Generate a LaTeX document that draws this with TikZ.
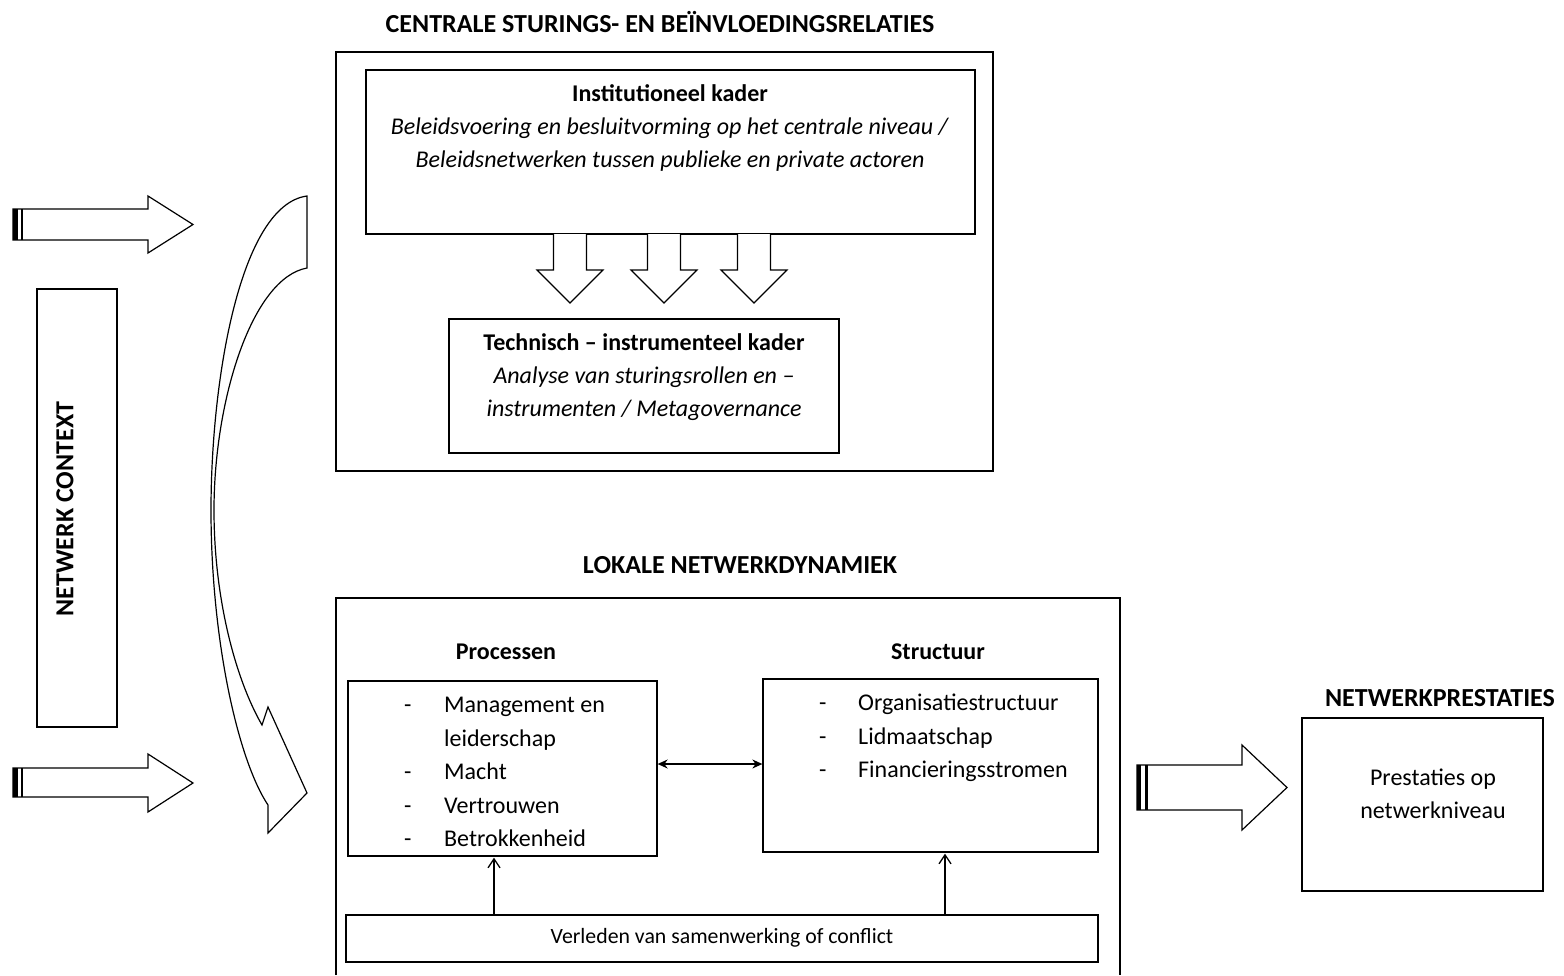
\documentclass[tikz,border=0pt]{standalone}
\usepackage{fontspec}
\setmainfont{Carlito}
\usetikzlibrary{arrows.meta}
\tikzset{
  box/.style={draw, line width=1.3pt, inner sep=0pt},
  txt/.style={font=\fontsize{24}{33}\selectfont, align=center, inner sep=0pt},
  ttl/.style={font=\fontsize{26}{28}\selectfont\bfseries, inner sep=0pt},
  blk/.style={draw, line width=1.2pt, fill=white, line join=miter},
  lst/.style={font=\fontsize{24}{33.5}\selectfont, align=left, inner sep=0pt, anchor=north west},
  uparrow/.style={-{Straight Barb[length=9pt,width=12pt]}, line width=1.3pt},
}
\begin{document}
\begin{tikzpicture}[x=1pt,y=-1pt]
\useasboundingbox (0,0) rectangle (1564,975);

% titles
\node[ttl] (t1) at (660,22) {CENTRALE STURINGS- EN BEÏNVLOEDINGSRELATIES};
\node[ttl] (t2) at (740,565) {LOKALE NETWERKDYNAMIEK};
\node[ttl] (t3) at (1440,698) {NETWERKPRESTATIES};

% upper outer box
\draw[line width=1.3pt] (336,52) rectangle (993,471);
\node[box, minimum width=609pt, minimum height=164pt] (inst) at (670.5,152) {};
\node[txt] (instt) at (670,127.5) {\textbf{Institutioneel kader}\\ \textit{Beleidsvoering en besluitvorming op het centrale niveau /}\\ \textit{Beleidsnetwerken tussen publieke en private actoren}};

\node[box, minimum width=390pt, minimum height=134pt] (tech) at (644,386) {};
\node[txt] (techt) at (644,377) {\textbf{Technisch -- instrumenteel kader}\\ \textit{Analyse van sturingsrollen en --}\\ \textit{instrumenten / Metagovernance}};

% down arrows
\foreach \c in {570,664,754}{
  \draw[blk] (\c-16.5,234) -- (\c-16.5,270) -- (\c-33,270) -- (\c,303) -- (\c+33,270) -- (\c+16.5,270) -- (\c+16.5,234);
}

% netwerk context
\node[box, minimum width=80pt, minimum height=438pt] (ctx) at (77,508) {};
\node[ttl, rotate=90] (ctxt) at (65,509) {NETWERK CONTEXT};

% left arrows
\draw[blk] (13,209) -- (148,209) -- (148,196) -- (193,224.5) -- (148,253) -- (148,240) -- (13,240) -- cycle;
\fill (13,209) rectangle (17.5,240);
\draw[line width=1.6pt] (22,209) -- (22,240);
\draw[blk] (13,768) -- (148,768) -- (148,754) -- (193,783) -- (148,812) -- (148,797) -- (13,797) -- cycle;
\fill (13,768) rectangle (17.5,797);
\draw[line width=1.6pt] (22,768) -- (22,797);

% curved arrow
\draw[line width=1.2pt, line join=miter] (307,196) -- (307,268)
  .. controls (252,278) and (214,400) .. (214,510)
  .. controls (214,600) and (236,680) .. (262,725)
  -- (268,707) -- (307,793) -- (268,833) -- (268,805)
  .. controls (238,760) and (211,640) .. (211,510)
  .. controls (211,380) and (240,205) .. (307,196) -- cycle;

% lower outer box (open at bottom)
\draw[line width=1.3pt] (336,975) -- (336,598) -- (1120,598) -- (1120,975);

\node[ttl, font=\fontsize{24}{28}\selectfont\bfseries] (pt) at (506,652) {Processen};
\node[ttl, font=\fontsize{24}{28}\selectfont\bfseries] (st) at (938,652) {Structuur};

\node[box, minimum width=309pt, minimum height=175pt] (proc) at (502.5,768.5) {};
\node[box, minimum width=335pt, minimum height=173pt] (struc) at (930.5,765.5) {};

\node[lst] (pl) at (404,697) {\makebox[40pt][l]{-}Management en\\ \hspace*{40pt}leiderschap\\ \makebox[40pt][l]{-}Macht\\ \makebox[40pt][l]{-}Vertrouwen\\ \makebox[40pt][l]{-}Betrokkenheid};
\node[lst] (sl) at (819,694) {\makebox[39pt][l]{-}Organisatiestructuur\\ \makebox[39pt][l]{-}Lidmaatschap\\ \makebox[39pt][l]{-}Financieringsstromen};

\draw[{Stealth[length=10pt,width=9pt]}-{Stealth[length=10pt,width=9pt]}, line width=1.3pt]
  ([yshift=4.5pt]proc.east) -- ([yshift=4.5pt]proc.east -| struc.west);

\node[box, minimum width=752pt, minimum height=47pt] (verl) at (722,938.5) {};
\node[txt, font=\fontsize{21.8}{24}\selectfont] (verlt) at (722,938) {Verleden van samenwerking of conflict};

\coordinate (xa) at (494,0);
\coordinate (xb) at (945,0);
\draw[uparrow] (verl.north -| xa) -- ([yshift=-1pt]proc.south -| xa);
\draw[uparrow] (verl.north -| xb) -- ([yshift=-1pt]struc.south -| xb);

% right arrow
\draw[blk] (1137,765) -- (1242,765) -- (1242,745) -- (1287,787.5) -- (1242,830) -- (1242,810) -- (1137,810) -- cycle;
\fill (1137,765) rectangle (1141,810);
\draw[line width=2.2pt] (1146.5,765) -- (1146.5,810);

% netwerkprestaties
\node[box, minimum width=241pt, minimum height=173pt] (np) at (1422.5,804.5) {};
\node[txt] (npt) at (1433,794) {Prestaties op\\ netwerkniveau};
\end{tikzpicture}
\end{document}
